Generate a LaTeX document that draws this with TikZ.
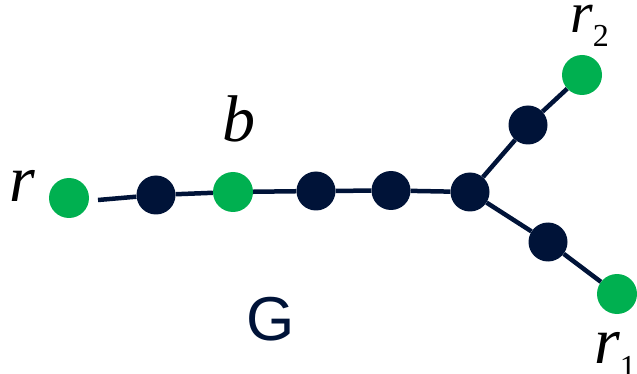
\documentclass[tikz,border=0pt]{standalone}
\usepackage{fontspec}
\setmainfont{Liberation Serif}
\newfontfamily\gfont{Liberation Sans}
\usetikzlibrary{positioning}
\definecolor{leafgreen}{HTML}{00B050}
\definecolor{navy}{HTML}{001338}
\tikzset{
  leaf/.style={circle, fill=leafgreen, minimum size=40pt, inner sep=0pt},
  inner/.style={circle, fill=navy, minimum size=39pt, inner sep=0pt},
  ln/.style={draw=navy, line width=4.5pt},
  lab/.style={inner sep=0pt, font=\fontsize{66}{70}\selectfont\itshape},
  labsm/.style={inner sep=0pt, font=\fontsize{58}{62}\selectfont\itshape}
}
\newcommand{\lowidx}[1]{\raisebox{-14pt}{\fontsize{32}{34}\selectfont\upshape #1}}

\begin{document}
\begin{tikzpicture}[x=1pt,y=-1pt]
  \useasboundingbox (0,0) rectangle (637,374);
  \node[leaf] (r) at (69,198) {};
  \node[inner] (d1) at (156,195) {};
  \node[leaf] (b) at (233,192) {};
  \node[inner] (d3) at (316,191) {};
  \node[inner] (d4) at (391,190.5) {};
  \node[inner] (j) at (470,192) {};
  \node[inner] (u) at (528,125) {};
  \node[leaf] (r2) at (582,75) {};
  \node[inner] (l) at (548,242) {};
  \node[leaf] (r1) at (617,294) {};
  \coordinate (rs) at (98,200);
  \foreach \a/\b in {rs/d1,d1/b,b/d3,d3/d4,d4/j,j/u,u/r2,j/l,l/r1} \draw[ln] (\a)--(\b);
  % labels
  \node[lab, anchor=base west] (rlab) at (9,202) {r};
  \node[lab, anchor=base west] (blab) at (222,142) {b};
  \node[labsm, anchor=base west] (r2lab) at (570,33) {r\lowidx{2}};
  \node[lab, anchor=base west] (r1lab) at (594,363) {r\lowidx{1}};
  \node[inner sep=0pt, font=\gfont\fontsize{62}{64}\selectfont, text=navy, anchor=base] (glab) at (271,340) {G};
\end{tikzpicture}
\end{document}
